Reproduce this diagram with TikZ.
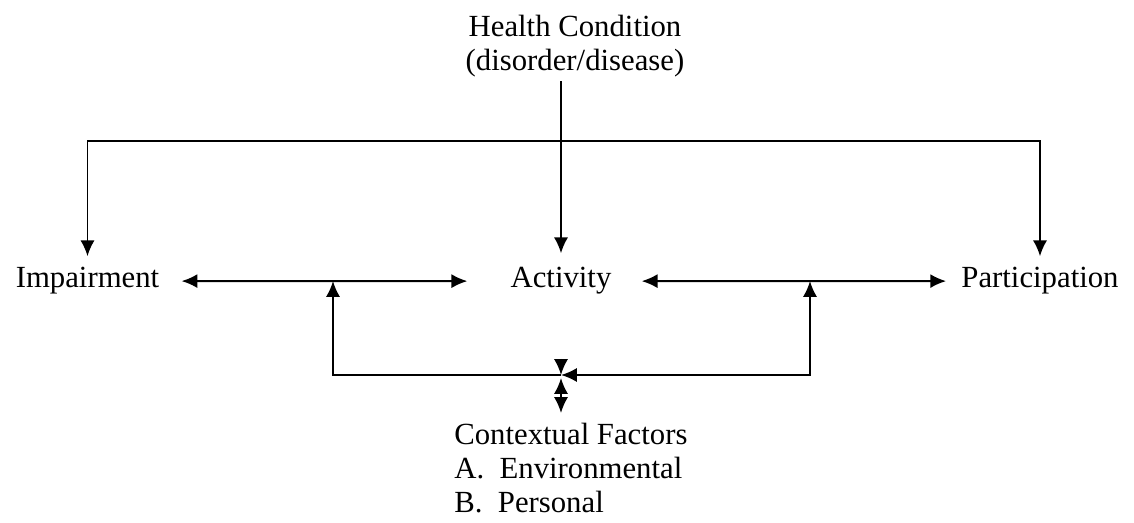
\documentclass[tikz,border=0pt]{standalone}
\usepackage{fontspec}
\setmainfont{Liberation Serif}
\usepackage{tikz}
\usetikzlibrary{calc,arrows.meta}

\tikzset{
  txt/.style={inner sep=0pt, font=\fontsize{17.5}{19.3}\selectfont},
  arrowline/.style={-{Latex[length=9pt,width=8pt]}, line width=1.1pt},
  arrowboth/.style={{Latex[length=9pt,width=8pt]}-{Latex[length=9pt,width=8pt]}, line width=1.1pt}
}

\begin{document}
\begin{tikzpicture}[x=0.02cm,y=-0.02cm]
                      \useasboundingbox (0,0) rectangle (1134,523);
                      \node[txt,align=center,anchor=north] (health) at (575,15) {Health Condition\\(disorder/disease)};
                      \node[txt,anchor=base] (imp) at (87.5,288) {Impairment};
                      \node[txt,anchor=base] (act) at (561,288) {Activity};
                      \node[txt,anchor=base] (part) at (1040,288) {Participation};
                      \node[txt,align=left,anchor=north west] (ctx) at (454,423) {Contextual Factors\\A.\ \ Environmental\\B.\ \ Personal};
                      \coordinate (bar) at (561,141);
                      \coordinate (lmid) at (333,281);
                      \coordinate (rmid) at (810,281);
                      \coordinate (jn) at (561,375);
                      % health condition to the three
                      \draw[arrowboth, shorten <=0.22cm, shorten >=0.22cm] (imp) |- (bar) -| (part);
                      \draw[arrowline, shorten <=0.08cm, shorten >=0.28cm] (health.south -| act) -- (act);
                      % middle row
                      \draw[arrowboth, shorten <=0.44cm, shorten >=0.86cm] (imp) -- (act);
                      \draw[arrowboth, shorten <=0.6cm, shorten >=0.3cm] (act) -- (part);
                      % contextual factors
                      \draw[arrowline] (jn) -| (lmid);
                      \draw[arrowboth] (jn) -| (rmid);
                      \draw[arrowline] (jn) ++(0,-16) -- (jn);
                      \draw[arrowboth, shorten >=0.2cm] (jn) ++(0,3) -- (jn |- ctx.north);
                  \end{tikzpicture}
\end{document}
